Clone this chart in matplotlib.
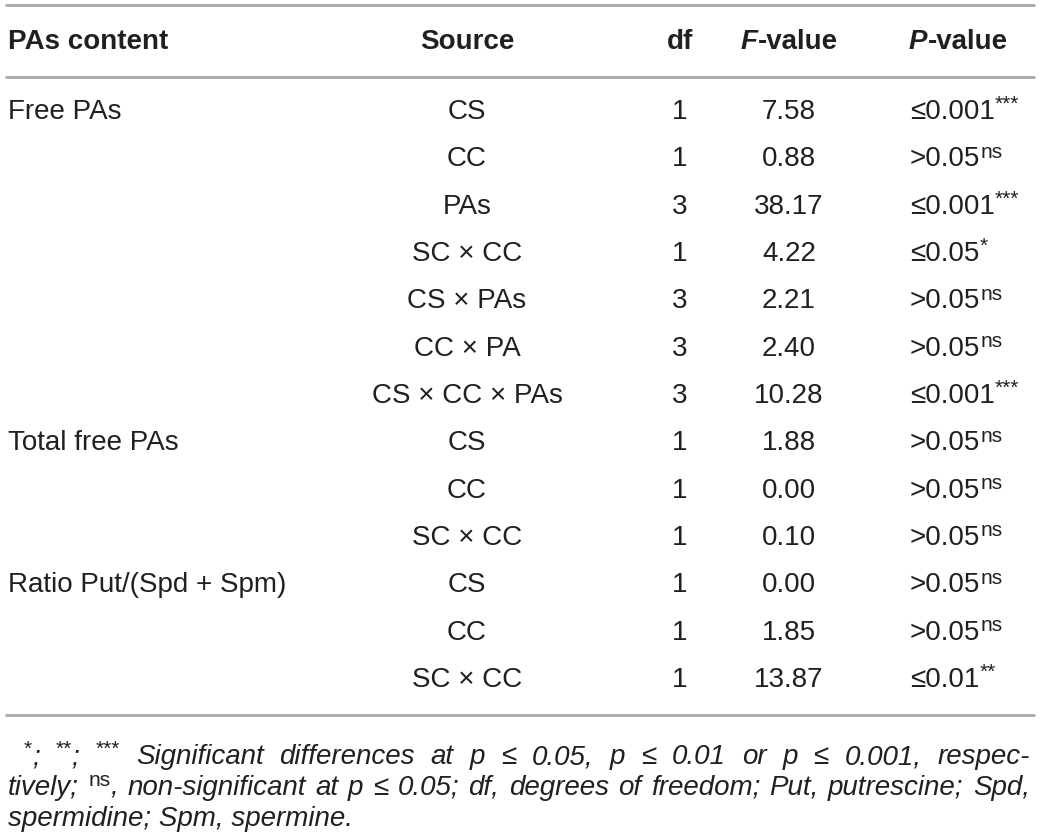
import matplotlib.pyplot as plt

plt.rcParams['font.family'] = ['Liberation Sans', 'DejaVu Sans']

# table content
headers = ['PAs content', 'Source', 'df', 'F-value', 'P-value']
groups = ['Free PAs', '', '', '', '', '', '', 'Total free PAs', '', '', 'Ratio Put/(Spd + Spm)', '', '']
sources = ['CS', 'CC', 'PAs', 'SC × CC', 'CS × PAs', 'CC × PA', 'CS × CC × PAs',
           'CS', 'CC', 'SC × CC', 'CS', 'CC', 'SC × CC']
dfs = [1, 1, 3, 1, 3, 3, 3, 1, 1, 1, 1, 1, 1]
fvals = ['7.58', '0.88', '38.17', '4.22', '2.21', '2.40', '10.28',
         '1.88', '0.00', '0.10', '0.00', '1.85', '13.87']
pvals = ['≤0.001', '>0.05', '≤0.001', '≤0.05', '>0.05', '>0.05', '≤0.001',
         '>0.05', '>0.05', '>0.05', '>0.05', '>0.05', '≤0.01']
psig = ['***', 'ns', '***', '*', 'ns', 'ns', '***', 'ns', 'ns', 'ns', 'ns', 'ns', '**']

W, H = 1040, 839
fig = plt.figure(figsize=(W / 100, H / 100), dpi=100)
ax = fig.add_axes([0, 0, 1, 1])
ax.set_xlim(0, W)
ax.set_ylim(H, 0)
ax.axis('off')
renderer = fig.canvas.get_renderer()

ink = '#231f20'
rule = '#a8a8a8'
fs = 20

def width_of(t):
    return t.get_window_extent(renderer).width

def pieces(x, y, parts, fs=fs, style='normal', justify_to=None):
    # parts: list of (text, is_sup), drawn left to right
    kw = dict(color=ink, fontsize=fs, style=style, va='center', ha='left')
    skw = {**kw, 'fontsize': fs * 0.75, 'style': 'normal'}
    made = []
    for txt, sup in parts:
        if sup:
            t = ax.text(0, y - fs * 0.36, txt, **skw)
        else:
            t = ax.text(0, y, txt, **kw)
        made.append(t)
    widths = [width_of(t) for t in made]
    gap = 0
    if justify_to is not None:
        nsp = sum(p[0].count(' ') for p in parts if not p[1])
        room = justify_to - x - sum(widths)
        gap = room / max(nsp, 1)
    sp = ax.text(0, 0, 'a a', **kw)
    sa = ax.text(0, 0, 'aa', **kw)
    space_w = width_of(sp) - width_of(sa)
    sp.remove()
    sa.remove()
    cx = x
    for (txt, sup), t, w in zip(parts, made, widths):
        if justify_to is not None and not sup and ' ' in txt:
            yy = t.get_position()[1]
            t.remove()
            words = txt.split(' ')
            for i, wd in enumerate(words):
                if wd:
                    tw = ax.text(cx, yy, wd, **kw)
                    cx += width_of(tw)
                if i < len(words) - 1:
                    cx += space_w + gap
        else:
            t.set_x(cx)
            cx += w
    return cx

# rules
for yy in (5, 77, 715):
    ax.plot([5, 1035], [yy, yy], color=rule, lw=2, solid_capstyle='butt')

# header
hy = 42
hkw = dict(fontsize=fs, weight='bold', color=ink, va='center')
ax.text(8, hy, headers[0], ha='left', **hkw)
ax.text(467, hy, headers[1], ha='center', **hkw)
ax.text(680, hy, headers[2], ha='center', **hkw)
hf = ax.text(0, hy, headers[3][0], style='italic', **hkw)
hf2 = ax.text(0, hy, headers[3][1:], **hkw)
tot = width_of(hf) + width_of(hf2)
hf.set_x(789 - tot / 2)
hf2.set_x(789 - tot / 2 + width_of(hf))
hp = ax.text(909, hy, headers[4][0], style='italic', **hkw)
ax.text(909 + width_of(hp), hy, headers[4][1:], **hkw)

# body rows
y0, step = 112, 47.33
for i in range(len(sources)):
    y = y0 + i * step
    if groups[i]:
        ax.text(8, y, groups[i], fontsize=fs, color=ink, va='center', ha='left')
    ax.text(467, y, sources[i], fontsize=fs, color=ink, va='center', ha='center')
    ax.text(680, y, str(dfs[i]), fontsize=fs, color=ink, va='center', ha='center')
    ax.text(789, y, fvals[i], fontsize=fs, color=ink, va='center', ha='center')
    pieces(910, y, [(pvals[i], False), (psig[i], True)])

# footnote
ffs = 20
pieces(8, 757, [(' ', False), ('*', True), ('; ', False), ('**', True), ('; ', False), ('***', True),
                (' Significant differences at p ≤ 0.05, p ≤ 0.01 or p ≤ 0.001, respec-', False)],
       fs=ffs, style='italic', justify_to=1030)
pieces(8, 788, [('tively; ', False), ('ns', True),
                (', non-significant at p ≤ 0.05; df, degrees of freedom; Put, putrescine; Spd,', False)],
       fs=ffs, style='italic', justify_to=1030)
pieces(8, 819, [('spermidine; Spm, spermine.', False)], fs=ffs, style='italic')

fig.savefig('out.png', dpi=100)
